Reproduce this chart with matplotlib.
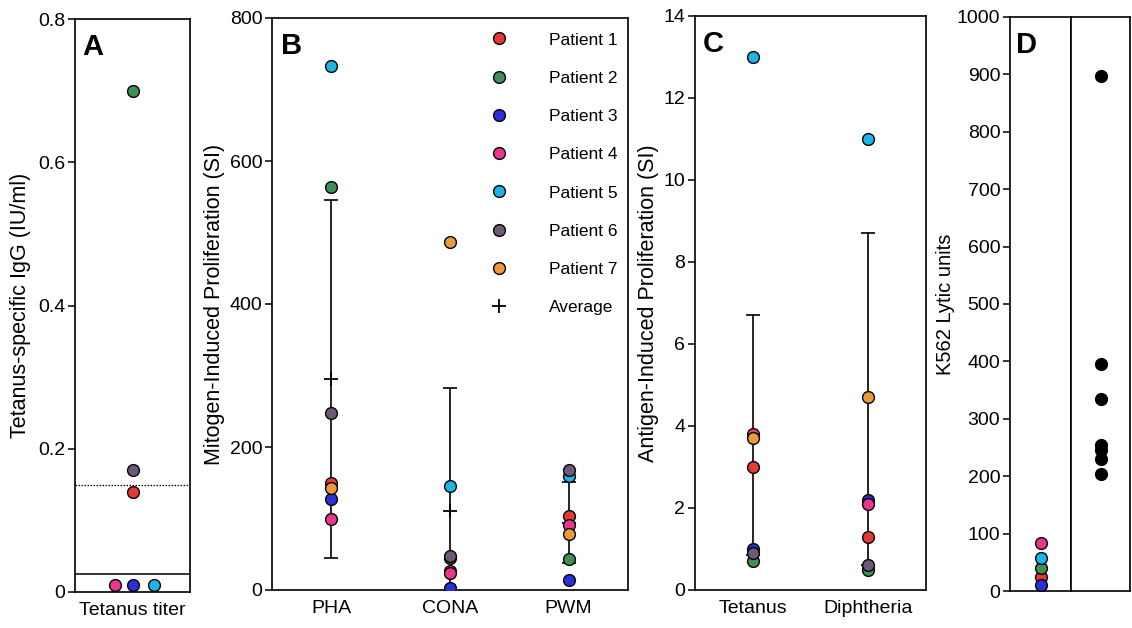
import numpy as np
import matplotlib
matplotlib.use("Agg")
import matplotlib.pyplot as plt
from matplotlib.lines import Line2D

plt.rcParams['font.family'] = ['Liberation Sans', 'DejaVu Sans']

# ---- data ----
patients = ['Patient 1', 'Patient 2', 'Patient 3', 'Patient 4',
            'Patient 5', 'Patient 6', 'Patient 7']
colors = ['#e53935', '#3f8f57', '#2b2fd8', '#e8388e', '#1db5e6', '#6d5a78', '#ea9a3c']

# A: tetanus-specific IgG (IU/ml); patient 7 not measured
igg = [0.14, 0.70, 0.01, 0.01, 0.01, 0.17, np.nan]
igg_protective = 0.15
igg_detect = 0.025

# B: mitogen-induced proliferation (SI)
mitogens = ['PHA', 'CONA', 'PWM']
pha = [150, 563, 127, 100, 733, 247, 143]
cona = [27, 45, 3, 24, 145, 47, 487]
pwm = [104, 43, 14, 91, 160, 168, 79]

# C: antigen-induced proliferation (SI)
antigens = ['Tetanus', 'Diphtheria']
tetanus = [3.0, 0.7, 1.0, 3.8, 13.0, 0.9, 3.7]
diphtheria = [1.3, 0.5, 2.2, 2.1, 11.0, 0.6, 4.7]
c_bar_low = [0.85, 0.6]
c_bar_high = [6.7, 8.7]

# D: K562 lytic units
lytic = [25, 40, 10, 83, 57, np.nan, np.nan]
controls = [898, 395, 335, 255, 245, 230, 203]

W, H = 1132, 628
fig = plt.figure(figsize=(W / 100, H / 100), dpi=100)

TICK = 14
LAB = 15.5


def box(l, r, t, b):
    return [l / W, 1 - b / H, (r - l) / W, (b - t) / H]


def style(ax):
    for s in ax.spines.values():
        s.set_linewidth(1.2)
    ax.tick_params(axis='y', direction='out', length=5, width=1.1, labelsize=TICK, pad=2)
    ax.tick_params(axis='x', length=0, labelsize=TICK, pad=7)


def letter(ax, s, x=0.06):
    ax.text(x, 0.975, s, transform=ax.transAxes, ha='left', va='top',
            fontsize=21, fontweight='bold')


ms, mew = 8.5, 1.0

# ---- A ----
axA = fig.add_axes(box(75, 190, 19, 592))
style(axA)
axA.axhline(igg_protective, color='black', lw=0.9, ls=(0, (1.2, 1.2)))
axA.axhline(igg_detect, color='black', lw=1.1)
# spread the overlapping below-detection points sideways (pink, blue, cyan)
low_dx = {3: -0.31, 2: 0.0, 4: 0.37}
for i, v in enumerate(igg):
    if np.isnan(v):
        continue
    dx = low_dx.get(i, 0.0) if v < igg_detect else 0.0
    axA.plot(dx, v, 'o', ms=ms, mfc=colors[i], mec='black', mew=mew, zorder=3)
axA.set_xlim(-1, 1)
axA.set_ylim(0, 0.8)
axA.set_yticks([0, 0.2, 0.4, 0.6, 0.8])
axA.set_yticklabels(['0', '0.2', '0.4', '0.6', '0.8'])
axA.set_xticks([0])
axA.set_xticklabels(['Tetanus titer'])
axA.set_ylabel('Tetanus-specific IgG (IU/ml)', fontsize=LAB, labelpad=5)
letter(axA, 'A')

# ---- B ----
axB = fig.add_axes(box(272, 628, 18, 590))
style(axB)
for j, vals in enumerate([pha, cona, pwm]):
    v = np.array(vals, float)
    m, sd = v.mean(), v.std(ddof=1)
    axB.errorbar(j, m, yerr=sd, fmt='none', ecolor='black', elinewidth=1.2,
                 capsize=5, capthick=1.2, zorder=1)
    axB.plot(j, m, '+', color='black', ms=10, mew=1.3, zorder=2)
    for i, y in enumerate(vals):
        axB.plot(j, y, 'o', ms=ms, mfc=colors[i], mec='black', mew=mew, zorder=3)
axB.set_xlim(-0.5, 2.5)
axB.set_ylim(0, 800)
axB.set_yticks(range(0, 801, 200))
axB.set_xticks(range(len(mitogens)))
axB.set_xticklabels(mitogens)
axB.set_ylabel('Mitogen-Induced Proliferation (SI)', fontsize=LAB, labelpad=3)
letter(axB, 'B', 0.025)
handles = [Line2D([], [], ls='none', marker='o', ms=ms, mfc=c, mec='black', mew=mew)
           for c in colors]
handles.append(Line2D([], [], ls='none', marker='+', ms=10, mew=1.3, color='black'))
axB.legend(handles, patients + ['Average'], loc='upper right', frameon=False,
           fontsize=12.5, labelspacing=1.33, handletextpad=1.9, handlelength=2.0,
           bbox_to_anchor=(1.0, 0.993), borderaxespad=0.2)

# ---- C ----
axC = fig.add_axes(box(695, 926, 16, 590))
style(axC)
for j, vals in enumerate([tetanus, diphtheria]):
    axC.plot([j, j], [c_bar_low[j], c_bar_high[j]], color='black', lw=1.2, zorder=1)
    for yb in (c_bar_low[j], c_bar_high[j]):
        axC.plot(j, yb, marker='_', ms=10, mew=1.2, color='black', zorder=1)
    for i, y in enumerate(vals):
        axC.plot(j, y, 'o', ms=ms, mfc=colors[i], mec='black', mew=mew, zorder=3)
axC.set_xlim(-0.5, 1.5)
axC.set_ylim(0, 14)
axC.set_yticks(range(0, 15, 2))
axC.set_xticks(range(len(antigens)))
axC.set_xticklabels(antigens)
axC.set_ylabel('Antigen-Induced Proliferation (SI)', fontsize=LAB, labelpad=3)
letter(axC, 'C', 0.035)

# ---- D ----
axD = fig.add_axes(box(1010, 1071, 17, 591))
axD2 = fig.add_axes(box(1071, 1130, 17, 591), sharey=axD)
style(axD)
style(axD2)
for i, y in enumerate(lytic):
    if not np.isnan(y):
        axD.plot(0, y, 'o', ms=ms, mfc=colors[i], mec='black', mew=mew, zorder=3)
axD2.plot(np.zeros(len(controls)), controls, 'o', ms=ms, color='black', zorder=3)
axD.set_xlim(-1, 1)
axD2.set_xlim(-1, 1)
axD.set_ylim(0, 1000)
axD.set_yticks(range(0, 1001, 100))
axD.set_xticks([])
axD2.set_xticks([])
axD2.tick_params(axis='y', left=False, labelleft=False)
axD.set_ylabel('K562 Lytic units', fontsize=14.5, labelpad=1)
axD.text(0.1, 0.975, 'D', transform=axD.transAxes, ha='left', va='top',
         fontsize=21, fontweight='bold')

fig.savefig('out.png', dpi=100, facecolor='white')
